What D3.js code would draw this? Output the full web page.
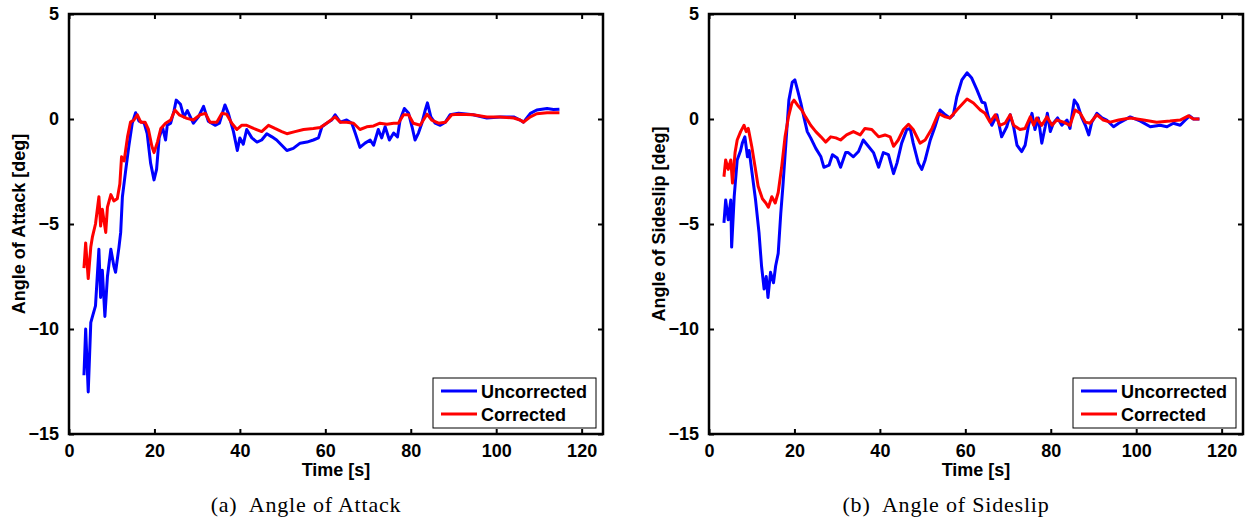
<!DOCTYPE html>
<html>
<head>
<meta charset="utf-8">
<script src="https://cdn.jsdelivr.net/npm/d3@7"></script>
<style>
  body { margin: 0; background: #fff; }
  svg text { font-family: "Liberation Sans", Arial, sans-serif; font-weight: bold; }
  svg text.caption { font-family: "Liberation Serif", "Times New Roman", serif; font-weight: normal; }
</style>
</head>
<body>
<svg id="chart"></svg>
<script>
// chart values

const xTicks = [0, 20, 40, 60, 80, 100, 120];
const yTicks = [-15, -10, -5, 0, 5];
const seriesNames = ['Uncorrected', 'Corrected'];
const seriesColors = ['#0000ff', '#ff0000'];

// angle of attack, uncorrected [time, deg]
const aoaUncorrected = [
  [3.5,-12.2],[3.9,-10.0],[4.5,-13.0],[5.1,-9.7],[5.5,-9.4],[6.2,-8.9],[7.0,-6.2],[7.4,-8.5],
  [7.8,-7.2],[8.4,-9.4],[9.0,-7.5],[9.8,-6.2],[10.5,-7.0],[10.9,-7.3],[11.7,-6.1],[12.1,-5.4],
  [12.5,-3.7],[13.3,-2.4],[14.0,-1.3],[14.8,-0.2],[15.6,0.3],[16.4,-0.1],[17.6,-0.2],[18.3,-0.7],
  [19.1,-2.1],[19.9,-2.9],[20.5,-2.4],[21.1,-0.9],[21.9,-0.4],[22.6,-1.0],[23.0,-0.3],[23.8,-0.2],
  [24.6,0.4],[25.1,0.9],[26.1,0.7],[26.9,0.1],[27.7,0.4],[29.1,-0.2],[30.3,0.1],[31.5,0.6],
  [32.6,-0.1],[34.2,-0.3],[35.2,-0.2],[36.5,0.67],[37.3,0.27],[38.5,-0.6],[39.4,-1.5],[40.0,-0.9],
  [40.8,-1.2],[41.6,-0.5],[42.8,-0.9],[44.0,-1.1],[45.1,-1.0],[46.3,-0.7],[47.5,-0.85],[48.6,-1.0],
  [49.8,-1.25],[51.0,-1.5],[52.5,-1.4],[54.1,-1.15],[55.7,-1.1],[57.2,-1.0],[58.4,-0.9],[59.2,-0.37],
  [60.3,-0.2],[61.5,-0.05],[62.3,0.2],[63.5,-0.15],[65.0,-0.05],[66.2,-0.2],[67.0,-0.67],[68.1,-1.35],
  [69.3,-1.15],[70.5,-1.0],[71.3,-1.25],[72.4,-0.5],[73.2,-0.9],[74.0,-0.37],[75.0,-1.0],[76.0,-0.67],
  [76.9,-0.85],[77.5,-0.05],[78.5,0.5],[79.5,0.27],[80.3,-0.37],[81.0,-1.0],[81.8,-0.67],[82.6,-0.2],
  [83.4,0.43],[83.9,0.77],[84.7,0.1],[85.7,-0.2],[86.9,-0.3],[88.1,-0.15],[89.2,0.2],[91.2,0.27],
  [94.6,0.2],[97.8,0.05],[100.9,0.1],[104.1,0.1],[105.6,-0.05],[106.4,-0.15],[108.0,0.27],[109.5,0.43],
  [111.9,0.5],[113.4,0.45],[114.8,0.47]
];

// angle of attack, corrected
const aoaCorrected = [
  [3.5,-7.1],[3.9,-5.9],[4.5,-7.6],[5.1,-6.1],[5.5,-5.6],[6.2,-5.0],[7.0,-3.7],[7.4,-5.1],
  [7.8,-4.3],[8.6,-5.4],[9.0,-4.2],[9.8,-3.6],[10.5,-3.9],[11.3,-3.8],[11.9,-3.1],[12.3,-1.8],
  [12.9,-2.0],[13.7,-0.85],[14.4,-0.15],[15.2,-0.05],[16.0,0.2],[16.8,-0.15],[17.8,-0.15],[18.6,-0.5],
  [19.4,-1.3],[19.9,-1.6],[20.7,-1.1],[21.5,-0.45],[22.6,-0.2],[23.8,-0.05],[24.8,0.43],[25.8,0.2],
  [27.6,0.03],[29.1,-0.05],[30.7,0.2],[31.9,0.27],[33.0,-0.15],[34.6,-0.15],[35.8,0.27],[36.9,0.23],
  [38.1,-0.2],[39.3,-0.5],[40.4,-0.3],[41.6,-0.3],[43.2,-0.45],[45.1,-0.6],[46.7,-0.3],[48.2,-0.45],
  [49.8,-0.6],[51.0,-0.7],[52.9,-0.6],[54.9,-0.5],[57.2,-0.45],[58.8,-0.4],[60.3,-0.2],[62.3,0.1],
  [63.5,-0.15],[65.0,-0.15],[66.6,-0.2],[68.1,-0.5],[69.7,-0.37],[71.3,-0.33],[72.8,-0.2],[74.4,-0.25],
  [76.0,-0.2],[77.1,-0.2],[78.3,0.2],[79.5,0.2],[80.6,-0.2],[82.2,-0.3],[83.8,0.23],[84.9,-0.05],
  [86.5,-0.2],[88.1,-0.15],[89.6,0.2],[91.2,0.23],[94.6,0.2],[97.8,0.1],[100.9,0.1],[104.1,0.05],
  [105.6,-0.05],[106.4,-0.15],[108.0,0.1],[109.5,0.25],[111.9,0.3],[114.8,0.3]
];

// angle of sideslip, uncorrected
const aosUncorrected = [
  [3.5,-4.95],[3.9,-3.86],[4.5,-4.8],[5.1,-3.86],[5.3,-6.1],[5.9,-3.7],[6.6,-1.95],[7.4,-1.5],
  [7.8,-1.15],[8.4,-0.85],[9.0,-1.8],[9.4,-1.5],[10.1,-2.6],[10.9,-3.86],[11.7,-5.4],[12.3,-7.0],
  [12.9,-8.1],[13.4,-7.5],[13.8,-8.5],[14.4,-7.3],[15.1,-7.8],[15.6,-7.0],[16.2,-6.4],[16.8,-4.5],
  [17.3,-3.2],[18.0,-1.15],[18.7,0.9],[19.5,1.76],[20.1,1.86],[20.7,1.4],[21.5,0.76],[22.2,0.1],
  [23.0,-0.6],[23.8,-0.9],[25.0,-1.4],[26.2,-1.8],[26.9,-2.3],[28.1,-2.2],[28.9,-1.7],[30.0,-1.86],
  [30.8,-2.3],[32.0,-1.6],[32.6,-1.6],[33.8,-1.8],[35.0,-1.55],[36.1,-1.0],[37.3,-1.3],[38.5,-1.6],
  [39.7,-2.3],[40.8,-1.6],[42.0,-1.7],[43.2,-2.6],[44.0,-2.1],[45.1,-1.15],[46.3,-0.5],[47.1,-0.45],
  [47.8,-1.15],[49.0,-2.1],[49.8,-2.4],[50.6,-1.95],[51.8,-1.0],[52.9,-0.37],[54.1,0.43],[55.3,0.2],
  [56.4,0.05],[57.2,0.2],[58.0,1.05],[59.2,1.86],[60.4,2.2],[61.5,1.95],[62.7,1.4],[63.9,0.8],
  [64.6,0.76],[65.4,0.1],[66.2,-0.3],[67.4,0.2],[68.5,-0.85],[69.7,-0.37],[70.5,0.2],[71.3,-0.37],
  [72.1,-1.25],[73.2,-1.55],[74.0,-1.25],[74.8,-0.3],[75.6,0.27],[76.3,-0.5],[77.1,0.05],[77.9,-1.15],
  [78.7,-0.37],[79.2,0.27],[79.9,-0.6],[80.6,-0.2],[81.6,0.05],[82.6,-0.3],[83.8,-0.05],[84.5,-0.45],
  [85.5,0.9],[86.3,0.67],[87.3,0.05],[88.1,-0.3],[88.9,-0.76],[89.6,-0.15],[90.8,0.27],[92.0,0.05],
  [93.1,-0.05],[94.7,-0.37],[95.9,-0.2],[98.6,0.1],[101.0,-0.1],[103.3,-0.37],[105.6,-0.3],[107.2,-0.37],
  [108.7,-0.2],[110.3,-0.3],[111.5,-0.05],[112.5,0.15],[113.4,0.0],[114.8,0.0]
];

// angle of sideslip, corrected
const aosCorrected = [
  [3.5,-2.75],[3.9,-1.95],[4.5,-2.4],[5.1,-1.95],[5.5,-3.05],[6.1,-1.6],[6.6,-1.0],[7.4,-0.6],
  [8.2,-0.3],[8.7,-0.6],[9.2,-0.45],[10.0,-1.3],[10.8,-2.3],[11.5,-3.2],[12.5,-3.8],[13.3,-4.0],
  [13.9,-4.2],[14.7,-3.7],[15.5,-4.0],[16.2,-3.5],[17.0,-2.3],[17.8,-0.85],[18.6,0.1],[19.4,0.76],
  [19.9,0.9],[20.7,0.67],[21.7,0.43],[22.6,0.1],[23.8,-0.3],[25.0,-0.6],[26.2,-0.85],[27.3,-1.1],
  [28.5,-0.85],[29.7,-0.9],[30.8,-1.0],[32.2,-0.76],[33.8,-0.6],[35.4,-0.76],[36.5,-0.45],[38.1,-0.5],
  [39.7,-0.85],[41.2,-0.76],[42.4,-0.85],[43.2,-1.3],[44.3,-1.0],[45.5,-0.5],[46.7,-0.25],[47.8,-0.5],
  [49.4,-1.15],[50.6,-1.0],[52.2,-0.45],[53.7,0.27],[55.3,0.1],[56.4,0.05],[58.0,0.43],[60.4,0.95],
  [61.9,0.76],[63.5,0.43],[64.6,0.27],[65.8,-0.15],[67.0,0.2],[68.1,-0.3],[69.3,-0.2],[70.5,0.2],
  [71.3,-0.3],[72.8,-0.5],[74.0,-0.45],[75.2,0.1],[76.0,-0.3],[76.7,0.05],[77.9,-0.3],[79.1,0.1],
  [80.3,-0.3],[81.4,-0.05],[83.0,-0.15],[84.5,-0.3],[85.7,0.43],[86.9,0.27],[88.1,-0.15],[89.2,-0.2],
  [90.8,0.2],[92.3,-0.05],[93.9,-0.15],[95.9,-0.05],[98.6,0.05],[101.7,-0.05],[104.8,-0.15],[107.9,-0.1],
  [110.3,-0.05],[112.2,0.15],[113.4,0.0],[114.8,0.0]
];

const panels = [
  { left: 69, yLabel: 'Angle of Attack [deg]', caption: '(a)  Angle of Attack', series: [aoaUncorrected, aoaCorrected] },
  { left: 709, yLabel: 'Angle of Sideslip [deg]', caption: '(b)  Angle of Sideslip', series: [aosUncorrected, aosCorrected] }
];

const width = 1250;
const height = 523;
const plotW = 534;
const plotTop = 14;
const plotBottom = 434;

const svg = d3.select('#chart')
  .attr('width', width)
  .attr('height', height);

panels.forEach(function(p) {
  const x = d3.scaleLinear().domain([0, 125]).range([p.left, p.left + plotW]);
  const y = d3.scaleLinear().domain([-15, 5]).range([plotBottom, plotTop]);
  const g = svg.append('g');

  const line = d3.line()
    .x(d => x(d[0]))
    .y(d => y(d[1]));

  p.series.forEach(function(s, i) {
    g.append('path')
      .attr('d', line(s))
      .attr('fill', 'none')
      .attr('stroke', seriesColors[i])
      .attr('stroke-width', 3)
      .attr('stroke-linejoin', 'round');
  });

  // axes, ticks pointing inwards on all four sides
  const xb = g.append('g').attr('transform', `translate(0,${plotBottom})`)
    .call(d3.axisBottom(x).tickValues(xTicks).tickSize(-5).tickSizeOuter(0).tickPadding(10));
  const xt = g.append('g').attr('transform', `translate(0,${plotTop})`)
    .call(d3.axisTop(x).tickValues(xTicks).tickSize(-5).tickSizeOuter(0).tickFormat(''));
  const yl = g.append('g').attr('transform', `translate(${p.left},0)`)
    .call(d3.axisLeft(y).tickValues(yTicks).tickSize(-5).tickSizeOuter(0).tickPadding(10));
  const yr = g.append('g').attr('transform', `translate(${p.left + plotW},0)`)
    .call(d3.axisRight(y).tickValues(yTicks).tickSize(-5).tickSizeOuter(0).tickFormat(''));

  [xb, xt, yl, yr].forEach(function(a) {
    a.select('.domain').remove();
    a.selectAll('line').attr('stroke', '#000').attr('stroke-width', 2);
    a.selectAll('text').attr('fill', '#000').style('font-size', '18px');
  });
  xb.selectAll('text').attr('dy', '0.71em');

  g.append('rect')
    .attr('x', p.left).attr('y', plotTop)
    .attr('width', plotW).attr('height', plotBottom - plotTop)
    .attr('fill', 'none').attr('stroke', '#000').attr('stroke-width', 2.5);

  // axis labels
  g.append('text')
    .attr('x', p.left + plotW / 2).attr('y', 476)
    .attr('text-anchor', 'middle').style('font-size', '18px')
    .text('Time [s]');

  g.append('text')
    .attr('transform', `translate(${p.left - 44},${(plotTop + plotBottom) / 2}) rotate(-90)`)
    .attr('text-anchor', 'middle').style('font-size', '18px')
    .text(p.yLabel);

  // legend
  const lx = p.left + plotW - 170;
  const ly = 378;
  const leg = g.append('g');
  leg.append('rect')
    .attr('x', lx).attr('y', ly).attr('width', 163).attr('height', 50)
    .attr('fill', '#fff').attr('stroke', '#000').attr('stroke-width', 1);
  seriesNames.forEach(function(name, i) {
    const yy = ly + 13 + i * 23;
    leg.append('line')
      .attr('x1', lx + 8).attr('x2', lx + 44)
      .attr('y1', yy).attr('y2', yy)
      .attr('stroke', seriesColors[i]).attr('stroke-width', 2.8);
    leg.append('text')
      .attr('x', lx + 48).attr('y', yy + 7)
      .style('font-size', '18px')
      .text(name);
  });

  // caption under the panel
  g.append('text')
    .attr('class', 'caption')
    .attr('x', p.left + plotW / 2 - 30).attr('y', 512)
    .attr('text-anchor', 'middle').style('font-size', '22px')
    .style('letter-spacing', '0.8px')
    .style('white-space', 'pre')
    .text(p.caption);
});
</script>
</body>
</html>
